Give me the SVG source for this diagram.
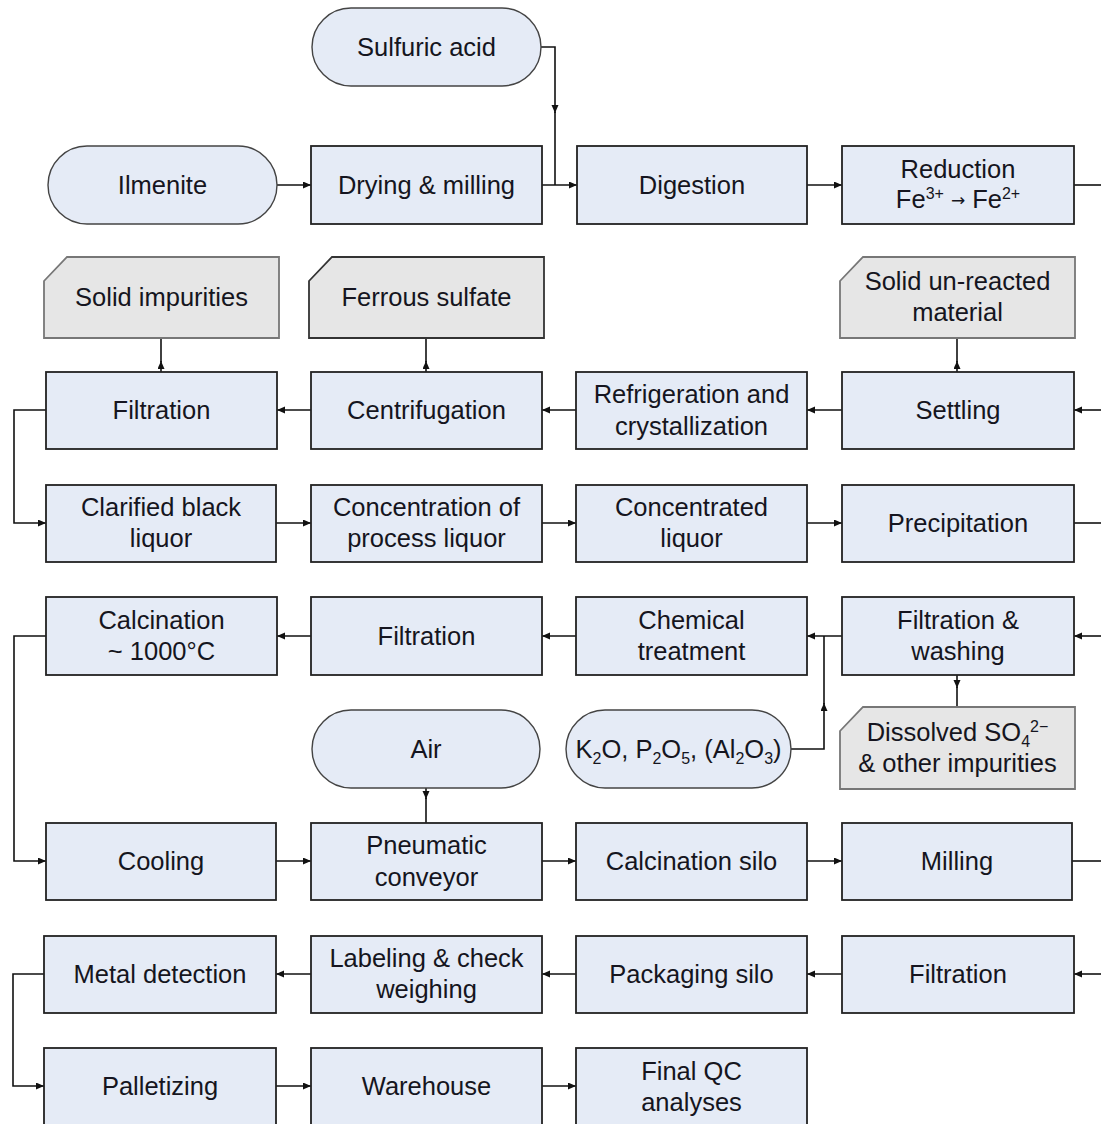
<svg xmlns="http://www.w3.org/2000/svg" width="1101" height="1124" viewBox="0 0 1101 1124">
<defs>
<marker id="ah" markerUnits="userSpaceOnUse" markerWidth="9" markerHeight="8" refX="8" refY="3.5" orient="auto">
<path d="M0,0 L8,3.5 L0,7 z" fill="#111"/>
</marker>
<style>
.box{fill:#e5ebf6;stroke:#222;stroke-width:1.8}
.pill{fill:#e5ebf6;stroke:#444;stroke-width:1.4}
.out{fill:#e6e6e6;stroke:#777;stroke-width:1.8}
.outd{fill:#e6e6e6;stroke:#333;stroke-width:1.8}
text{font-family:"Liberation Sans",Arial,sans-serif;font-size:25.5px;fill:#151520;text-anchor:middle}
.c{fill:none;stroke:#111;stroke-width:1.6}
.a{fill:none;stroke:#111;stroke-width:1.6;marker-end:url(#ah)}
.sm{font-size:16px}
.arr{font-family:"DejaVu Sans",sans-serif;font-size:17px}
</style>
</defs>
<rect width="1101" height="1124" fill="#fff"/>

<g id="connectors">
<path class="a" d="M277,185 H311"/>
<path class="a" d="M542,185 H577"/>
<path class="a" d="M541,47 H555 V113"/>
<path class="c" d="M555,112 V185"/>
<path class="a" d="M807,185 H842"/>
<path class="c" d="M1074,185 H1101"/>
<path class="a" d="M1101,410 H1074"/>
<path class="a" d="M842,410 H807"/>
<path class="a" d="M576,410 H542"/>
<path class="a" d="M311,410 H277"/>
<path class="a" d="M161,372 V361"/>
<path class="c" d="M161,362 V338"/>
<path class="a" d="M426,372 V361"/>
<path class="c" d="M426,362 V338"/>
<path class="a" d="M957,372 V361"/>
<path class="c" d="M957,362 V338"/>
<path class="a" d="M46,410 H14 V523 H46"/>
<path class="a" d="M276,523 H311"/>
<path class="a" d="M542,523 H576"/>
<path class="a" d="M807,523 H842"/>
<path class="c" d="M1074,523 H1101"/>
<path class="a" d="M1101,636 H1074"/>
<path class="a" d="M842,636 H807"/>
<path class="a" d="M791,749 H824 V703"/>
<path class="c" d="M824,704 V636"/>
<path class="a" d="M957,675 V688"/>
<path class="c" d="M957,687 V707"/>
<path class="a" d="M576,636 H542"/>
<path class="a" d="M311,636 H277"/>
<path class="a" d="M46,636 H14 V861 H46"/>
<path class="a" d="M426,788 V799"/>
<path class="c" d="M426,798 V823"/>
<path class="a" d="M276,861 H311"/>
<path class="a" d="M542,861 H576"/>
<path class="a" d="M807,861 H842"/>
<path class="c" d="M1072,861 H1101"/>
<path class="a" d="M1101,974 H1074"/>
<path class="a" d="M842,974 H807"/>
<path class="a" d="M576,974 H542"/>
<path class="a" d="M311,974 H276"/>
<path class="a" d="M44,974 H13 V1086 H44"/>
<path class="a" d="M276,1086 H311"/>
<path class="a" d="M542,1086 H576"/>
</g>

<g id="sulfuric-acid"><rect class="pill" x="312" y="8" width="229" height="78" rx="39"/><text x="426.5" y="56">Sulfuric acid</text></g>

<g id="ilmenite"><rect class="pill" x="48" y="146" width="229" height="78" rx="39"/><text x="162.5" y="194">Ilmenite</text></g>
<g id="drying-milling"><rect class="box" x="311" y="146" width="231" height="78"/><text x="426.5" y="194">Drying &amp; milling</text></g>
<g id="digestion"><rect class="box" x="577" y="146" width="230" height="78"/><text x="692" y="194">Digestion</text></g>
<g id="reduction"><rect class="box" x="842" y="146" width="232" height="78"/><text x="958" y="178">Reduction</text><text x="958" y="208">Fe<tspan class="sm" dy="-9">3+</tspan><tspan class="arr" dy="7" dx="7">→</tspan><tspan dy="2" dx="7">Fe</tspan><tspan class="sm" dy="-9">2+</tspan></text></g>

<g id="solid-impurities"><polygon class="out" points="44,281 67,257 279,257 279,338 44,338"/><text x="161.5" y="306">Solid impurities</text></g>
<g id="ferrous-sulfate"><polygon class="outd" points="309,281 332,257 544,257 544,338 309,338"/><text x="426.5" y="306">Ferrous sulfate</text></g>
<g id="solid-unreacted"><polygon class="out" points="840,281 863,257 1075,257 1075,338 840,338"/><text x="957.5" y="290">Solid un-reacted</text><text x="957.5" y="321">material</text></g>

<g id="filtration-1"><rect class="box" x="46" y="372" width="231" height="77"/><text x="161.5" y="419">Filtration</text></g>
<g id="centrifugation"><rect class="box" x="311" y="372" width="231" height="77"/><text x="426.5" y="419">Centrifugation</text></g>
<g id="refrigeration"><rect class="box" x="576" y="372" width="231" height="77"/><text x="691.5" y="403">Refrigeration and</text><text x="691.5" y="435">crystallization</text></g>
<g id="settling"><rect class="box" x="842" y="372" width="232" height="77"/><text x="958" y="419">Settling</text></g>

<g id="clarified"><rect class="box" x="46" y="485" width="230" height="77"/><text x="161" y="516">Clarified black</text><text x="161" y="547">liquor</text></g>
<g id="concentration"><rect class="box" x="311" y="485" width="231" height="77"/><text x="426.5" y="516">Concentration of</text><text x="426.5" y="547">process liquor</text></g>
<g id="concentrated"><rect class="box" x="576" y="485" width="231" height="77"/><text x="691.5" y="516">Concentrated</text><text x="691.5" y="547">liquor</text></g>
<g id="precipitation"><rect class="box" x="842" y="485" width="232" height="77"/><text x="958" y="532">Precipitation</text></g>

<g id="calcination"><rect class="box" x="46" y="597" width="231" height="78"/><text x="161.5" y="629">Calcination</text><text x="161.5" y="660">~ 1000°C</text></g>
<g id="filtration-2"><rect class="box" x="311" y="597" width="231" height="78"/><text x="426.5" y="645">Filtration</text></g>
<g id="chemical"><rect class="box" x="576" y="597" width="231" height="78"/><text x="691.5" y="629">Chemical</text><text x="691.5" y="660">treatment</text></g>
<g id="filtration-washing"><rect class="box" x="842" y="597" width="232" height="78"/><text x="958" y="629">Filtration &amp;</text><text x="958" y="660">washing</text></g>

<g id="air"><rect class="pill" x="312" y="710" width="228" height="78" rx="39"/><text x="426" y="758">Air</text></g>
<g id="additives"><rect class="pill" x="566" y="710" width="225" height="78" rx="39"/><text x="678.5" y="758">K<tspan class="sm" dy="6">2</tspan><tspan dy="-6">O, P</tspan><tspan class="sm" dy="6">2</tspan><tspan dy="-6">O</tspan><tspan class="sm" dy="6">5</tspan><tspan dy="-6">, (Al</tspan><tspan class="sm" dy="6">2</tspan><tspan dy="-6">O</tspan><tspan class="sm" dy="6">3</tspan><tspan dy="-6">)</tspan></text></g>
<g id="dissolved"><polygon class="out" points="840,731 863,707 1075,707 1075,789 840,789"/><text x="957.5" y="741">Dissolved SO<tspan class="sm" dy="6">4</tspan><tspan class="sm" dy="-15">2−</tspan></text><text x="957.5" y="772">&amp; other impurities</text></g>

<g id="cooling"><rect class="box" x="46" y="823" width="230" height="77"/><text x="161" y="870">Cooling</text></g>
<g id="pneumatic"><rect class="box" x="311" y="823" width="231" height="77"/><text x="426.5" y="854">Pneumatic</text><text x="426.5" y="886">conveyor</text></g>
<g id="calcination-silo"><rect class="box" x="576" y="823" width="231" height="77"/><text x="691.5" y="870">Calcination silo</text></g>
<g id="milling"><rect class="box" x="842" y="823" width="230" height="77"/><text x="957" y="870">Milling</text></g>

<g id="metal-detection"><rect class="box" x="44" y="936" width="232" height="77"/><text x="160" y="983">Metal detection</text></g>
<g id="labeling"><rect class="box" x="311" y="936" width="231" height="77"/><text x="426.5" y="967">Labeling &amp; check</text><text x="426.5" y="998">weighing</text></g>
<g id="packaging-silo"><rect class="box" x="576" y="936" width="231" height="77"/><text x="691.5" y="983">Packaging silo</text></g>
<g id="filtration-3"><rect class="box" x="842" y="936" width="232" height="77"/><text x="958" y="983">Filtration</text></g>

<g id="palletizing"><rect class="box" x="44" y="1048" width="232" height="77"/><text x="160" y="1095">Palletizing</text></g>
<g id="warehouse"><rect class="box" x="311" y="1048" width="231" height="77"/><text x="426.5" y="1095">Warehouse</text></g>
<g id="final-qc"><rect class="box" x="576" y="1048" width="231" height="77"/><text x="691.5" y="1080">Final QC</text><text x="691.5" y="1111">analyses</text></g>
</svg>
